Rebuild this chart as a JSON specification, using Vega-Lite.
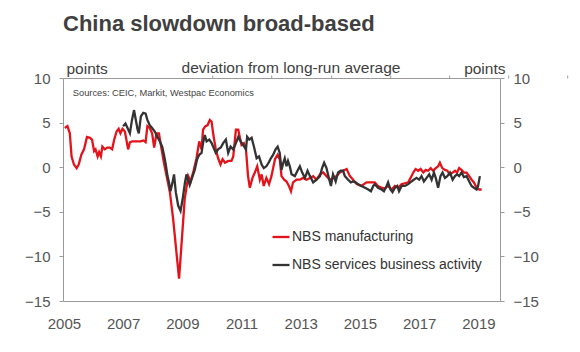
{
  "$schema": "https://vega.github.io/schema/vega-lite/v6.json",
  "width": 437,
  "height": 223,
  "autosize": "none",
  "padding": {"left": 63, "top": 78, "right": 80, "bottom": 51},
  "background": "white",
  "title": {"text": "China slowdown broad-based", "anchor": "start", "frame": "group", "fontSize": 22, "fontWeight": "bold", "color": "#404040", "font": "Liberation Sans", "offset": 25},
  "config": {
    "font": "Liberation Sans",
    "view": {"stroke": "#9a9a9a", "strokeWidth": 1},
    "axis": {"labelFont": "Liberation Sans", "labelFontSize": 15, "labelColor": "#555555", "titleFont": "Liberation Sans", "titleFontSize": 15.5, "titleFontWeight": "normal", "titleColor": "#404040", "grid": false, "domain": false, "tickColor": "#9a9a9a"}
  },
  "datasets": {
    "mfg": [
      {"year":2005.03,"value":4.4},{"year":2005.12,"value":4.6},{"year":2005.20,"value":3.8},{"year":2005.26,"value":1.2},{"year":2005.34,"value":0.3},{"year":2005.43,"value":-0.1},{"year":2005.50,"value":0.3},{"year":2005.59,"value":1.4},{"year":2005.68,"value":2.0},{"year":2005.78,"value":3.4},{"year":2005.88,"value":3.3},{"year":2005.95,"value":3.1},
      {"year":2006.02,"value":1.8},{"year":2006.07,"value":2.0},{"year":2006.14,"value":1.2},{"year":2006.19,"value":1.7},{"year":2006.25,"value":1.2},{"year":2006.30,"value":2.3},{"year":2006.38,"value":2.0},{"year":2006.47,"value":2.2},{"year":2006.55,"value":2.2},{"year":2006.63,"value":2.0},{"year":2006.70,"value":3.1},{"year":2006.78,"value":4.0},{"year":2006.85,"value":4.3},{"year":2006.91,"value":3.8},{"year":2006.98,"value":4.3},
      {"year":2007.06,"value":4.0},{"year":2007.11,"value":3.1},{"year":2007.17,"value":2.0},{"year":2007.23,"value":2.8},{"year":2007.30,"value":2.9},{"year":2007.45,"value":2.9},{"year":2007.60,"value":2.9},{"year":2007.68,"value":3.0},{"year":2007.76,"value":2.8},{"year":2007.82,"value":4.6},{"year":2007.90,"value":4.4},{"year":2007.98,"value":3.8},
      {"year":2008.05,"value":2.2},{"year":2008.13,"value":3.8},{"year":2008.21,"value":3.8},{"year":2008.30,"value":2.0},{"year":2008.39,"value":0.3},{"year":2008.47,"value":-1.0},{"year":2008.58,"value":-2.8},{"year":2008.69,"value":-5.8},{"year":2008.80,"value":-9.5},{"year":2008.89,"value":-12.5},{"year":2008.97,"value":-8.8},
      {"year":2009.08,"value":-3.6},{"year":2009.20,"value":-1.0},{"year":2009.28,"value":-1.6},{"year":2009.38,"value":-0.4},{"year":2009.48,"value":1.0},{"year":2009.57,"value":2.9},{"year":2009.65,"value":2.0},{"year":2009.70,"value":4.2},{"year":2009.78,"value":4.6},{"year":2009.85,"value":4.7},{"year":2009.93,"value":5.3},{"year":2009.99,"value":5.1},
      {"year":2010.04,"value":3.8},{"year":2010.13,"value":2.0},{"year":2010.21,"value":1.0},{"year":2010.29,"value":0.3},{"year":2010.36,"value":0.9},{"year":2010.44,"value":0.5},{"year":2010.55,"value":0.7},{"year":2010.66,"value":0.7},{"year":2010.72,"value":1.2},{"year":2010.81,"value":4.2},{"year":2010.89,"value":4.2},{"year":2010.94,"value":3.4},
      {"year":2011.00,"value":2.5},{"year":2011.08,"value":2.7},{"year":2011.15,"value":2.0},{"year":2011.22,"value":-1.0},{"year":2011.28,"value":-2.3},{"year":2011.37,"value":-1.2},{"year":2011.45,"value":-0.6},{"year":2011.53,"value":0.1},{"year":2011.62,"value":-1.4},{"year":2011.68,"value":-0.8},{"year":2011.75,"value":-2.1},{"year":2011.84,"value":-1.2},{"year":2011.93,"value":-1.9},
      {"year":2012.01,"value":-1.0},{"year":2012.13,"value":0.9},{"year":2012.22,"value":1.4},{"year":2012.29,"value":0.9},{"year":2012.35,"value":-1.0},{"year":2012.44,"value":-1.4},{"year":2012.52,"value":-1.6},{"year":2012.60,"value":-2.1},{"year":2012.67,"value":-2.7},{"year":2012.74,"value":-1.7},{"year":2012.86,"value":-1.4},{"year":2012.97,"value":-1.4},
      {"year":2013.08,"value":-1.2},{"year":2013.20,"value":-1.4},{"year":2013.31,"value":-1.2},{"year":2013.42,"value":-1.0},{"year":2013.53,"value":-1.4},{"year":2013.65,"value":-0.8},{"year":2013.76,"value":-0.6},{"year":2013.87,"value":-1.0},{"year":2013.98,"value":-1.4},
      {"year":2014.09,"value":-1.2},{"year":2014.21,"value":-1.0},{"year":2014.32,"value":-0.6},{"year":2014.43,"value":-0.4},{"year":2014.55,"value":-0.2},{"year":2014.66,"value":-1.0},{"year":2014.77,"value":-1.4},{"year":2014.89,"value":-1.9},
      {"year":2015.05,"value":-2.1},{"year":2015.22,"value":-1.7},{"year":2015.39,"value":-1.7},{"year":2015.50,"value":-1.7},{"year":2015.61,"value":-2.1},{"year":2015.73,"value":-2.3},{"year":2015.84,"value":-2.4},{"year":2015.95,"value":-2.1},
      {"year":2016.07,"value":-2.5},{"year":2016.18,"value":-2.1},{"year":2016.29,"value":-2.3},{"year":2016.41,"value":-1.9},{"year":2016.52,"value":-1.8},{"year":2016.63,"value":-1.7},{"year":2016.71,"value":-1.2},{"year":2016.80,"value":-0.6},{"year":2016.88,"value":-0.2},{"year":2016.97,"value":-0.4},
      {"year":2017.05,"value":-0.2},{"year":2017.14,"value":-0.6},{"year":2017.22,"value":-0.3},{"year":2017.30,"value":-0.4},{"year":2017.39,"value":-0.1},{"year":2017.47,"value":-0.4},{"year":2017.56,"value":-0.1},{"year":2017.64,"value":0.1},{"year":2017.70,"value":0.5},{"year":2017.78,"value":-0.1},{"year":2017.87,"value":-0.3},{"year":2017.95,"value":-0.4},
      {"year":2018.04,"value":-0.8},{"year":2018.13,"value":-0.6},{"year":2018.21,"value":-0.4},{"year":2018.28,"value":-0.6},{"year":2018.35,"value":-0.1},{"year":2018.43,"value":-0.3},{"year":2018.51,"value":-0.6},{"year":2018.60,"value":-0.6},{"year":2018.69,"value":-1.0},{"year":2018.77,"value":-1.4},{"year":2018.85,"value":-1.7},{"year":2018.94,"value":-2.3},
      {"year":2019.03,"value":-2.5},{"year":2019.11,"value":-2.5}
    ],
    "svc": [
      {"year":2007.00,"value":4.6},{"year":2007.08,"value":4.9},{"year":2007.15,"value":4.4},{"year":2007.23,"value":3.8},{"year":2007.30,"value":5.3},{"year":2007.37,"value":6.4},{"year":2007.43,"value":5.3},{"year":2007.49,"value":4.2},{"year":2007.53,"value":3.8},{"year":2007.60,"value":5.7},{"year":2007.68,"value":6.1},{"year":2007.76,"value":6.0},{"year":2007.82,"value":5.3},{"year":2007.90,"value":4.7},{"year":2007.98,"value":4.4},
      {"year":2008.07,"value":4.0},{"year":2008.16,"value":3.4},{"year":2008.24,"value":2.9},{"year":2008.32,"value":2.3},{"year":2008.38,"value":1.4},{"year":2008.44,"value":0.3},{"year":2008.50,"value":-1.0},{"year":2008.55,"value":-1.7},{"year":2008.60,"value":-2.7},{"year":2008.67,"value":-1.7},{"year":2008.72,"value":-0.8},{"year":2008.78,"value":-2.8},{"year":2008.86,"value":-4.3},{"year":2008.94,"value":-4.9},
      {"year":2009.01,"value":-3.6},{"year":2009.09,"value":-1.7},{"year":2009.14,"value":-0.8},{"year":2009.25,"value":-2.0},{"year":2009.34,"value":-1.1},{"year":2009.42,"value":-0.3},{"year":2009.50,"value":0.9},{"year":2009.57,"value":1.4},{"year":2009.65,"value":1.6},{"year":2009.70,"value":2.7},{"year":2009.76,"value":3.6},{"year":2009.82,"value":2.9},{"year":2009.91,"value":3.1},{"year":2009.99,"value":2.7},
      {"year":2010.04,"value":2.3},{"year":2010.13,"value":1.6},{"year":2010.21,"value":2.0},{"year":2010.30,"value":2.2},{"year":2010.38,"value":2.7},{"year":2010.47,"value":3.1},{"year":2010.55,"value":1.6},{"year":2010.63,"value":2.3},{"year":2010.72,"value":2.0},{"year":2010.81,"value":2.7},{"year":2010.89,"value":3.4},{"year":2010.97,"value":2.9},
      {"year":2011.05,"value":2.5},{"year":2011.15,"value":2.0},{"year":2011.19,"value":3.4},{"year":2011.26,"value":3.1},{"year":2011.34,"value":3.3},{"year":2011.42,"value":2.3},{"year":2011.51,"value":1.0},{"year":2011.59,"value":1.2},{"year":2011.68,"value":0.3},{"year":2011.75,"value":-0.1},{"year":2011.84,"value":0.1},{"year":2011.93,"value":0.6},
      {"year":2011.99,"value":1.0},{"year":2012.07,"value":1.4},{"year":2012.15,"value":2.0},{"year":2012.22,"value":2.3},{"year":2012.29,"value":1.6},{"year":2012.35,"value":-0.3},{"year":2012.41,"value":0.5},{"year":2012.46,"value":1.0},{"year":2012.52,"value":0.1},{"year":2012.57,"value":0.7},{"year":2012.63,"value":0.1},{"year":2012.69,"value":-0.8},{"year":2012.80,"value":-1.0},{"year":2012.89,"value":-0.4},{"year":2012.97,"value":0.1},
      {"year":2013.05,"value":-0.6},{"year":2013.14,"value":-1.2},{"year":2013.23,"value":-0.4},{"year":2013.31,"value":-1.0},{"year":2013.42,"value":-1.7},{"year":2013.53,"value":-1.4},{"year":2013.65,"value":-1.0},{"year":2013.72,"value":-0.1},{"year":2013.79,"value":0.5},{"year":2013.87,"value":-0.1},{"year":2013.95,"value":-1.2},
      {"year":2014.02,"value":-2.1},{"year":2014.09,"value":-0.8},{"year":2014.18,"value":-1.6},{"year":2014.26,"value":-0.6},{"year":2014.35,"value":-0.4},{"year":2014.43,"value":-0.4},{"year":2014.49,"value":-1.0},{"year":2014.60,"value":-1.4},{"year":2014.69,"value":-1.7},{"year":2014.77,"value":-1.6},{"year":2014.85,"value":-1.7},{"year":2014.94,"value":-1.9},
      {"year":2015.05,"value":-2.1},{"year":2015.17,"value":-2.3},{"year":2015.28,"value":-2.5},{"year":2015.37,"value":-2.7},{"year":2015.45,"value":-2.1},{"year":2015.50,"value":-1.9},{"year":2015.61,"value":-2.3},{"year":2015.73,"value":-2.5},{"year":2015.81,"value":-2.7},{"year":2015.90,"value":-2.1},{"year":2015.95,"value":-1.7},
      {"year":2016.03,"value":-2.5},{"year":2016.10,"value":-2.8},{"year":2016.18,"value":-2.3},{"year":2016.26,"value":-2.1},{"year":2016.32,"value":-2.7},{"year":2016.41,"value":-2.1},{"year":2016.52,"value":-2.1},{"year":2016.63,"value":-1.9},{"year":2016.74,"value":-1.6},{"year":2016.82,"value":-1.4},{"year":2016.91,"value":-1.2},
      {"year":2017.00,"value":-1.4},{"year":2017.08,"value":-1.0},{"year":2017.16,"value":-1.6},{"year":2017.25,"value":-1.2},{"year":2017.34,"value":-0.8},{"year":2017.42,"value":-1.4},{"year":2017.50,"value":-0.6},{"year":2017.56,"value":-1.2},{"year":2017.64,"value":-2.3},{"year":2017.72,"value":-1.0},{"year":2017.79,"value":-0.6},{"year":2017.87,"value":-1.2},{"year":2017.95,"value":-1.0},
      {"year":2018.04,"value":-0.6},{"year":2018.13,"value":-1.4},{"year":2018.21,"value":-1.0},{"year":2018.28,"value":-0.8},{"year":2018.35,"value":-1.0},{"year":2018.43,"value":-0.6},{"year":2018.51,"value":-1.1},{"year":2018.60,"value":-1.0},{"year":2018.69,"value":-1.6},{"year":2018.77,"value":-2.1},{"year":2018.85,"value":-2.3},{"year":2018.94,"value":-2.5},{"year":2018.99,"value":-2.1},{"year":2019.05,"value":-1.0}
    ],
    "notes": [
      {"note": "deviation from long-run average", "year": 2012.67, "value": 10},
      {"note": "Sources: CEIC, Markit, Westpac Economics", "year": 2005.3, "value": 8.3}
    ]
  },
  "layer": [
    {
      "mark": {"type": "rule", "color": "#9a9a9a", "strokeWidth": 1},
      "encoding": {"y": {"datum": 0, "type": "quantitative", "scale": {"domain": [-15, 10], "nice": false, "zero": false}, "axis": null}}
    },
    {
      "data": {"name": "mfg"},
      "mark": {"type": "line", "strokeWidth": 2.3, "interpolate": "linear"},
      "encoding": {
        "x": {"field": "year", "type": "quantitative", "scale": {"domain": [2004.97, 2019.73], "nice": false, "zero": false},
              "axis": {"orient": "bottom", "values": [2005, 2007, 2009, 2011, 2013, 2015, 2017, 2019], "format": "d", "ticks": false, "labelPadding": 15, "labelFlush": false, "title": null}},
        "y": {"field": "value", "type": "quantitative", "scale": {"domain": [-15, 10], "nice": false, "zero": false},
              "axis": {"orient": "left", "values": [-15, -10, -5, 0, 5, 10], "tickSize": 4, "labelPadding": 9, "labelFlush": false, "title": "points", "titleAngle": 0, "titleAlign": "left", "titleBaseline": "alphabetic", "titleX": 3, "titleY": -5}},
        "color": {"datum": "NBS manufacturing", "type": "nominal",
                  "scale": {"domain": ["NBS manufacturing", "NBS services business activity"], "range": ["#E3131B", "#333333"]},
                  "legend": {"orient": "none", "legendX": 208, "legendY": 149, "title": null, "symbolType": "stroke", "symbolSize": 289, "symbolStrokeWidth": 2.3, "labelFontSize": 14, "labelColor": "#333333", "labelFont": "Liberation Sans", "labelLimit": 400, "rowPadding": 11, "labelOffset": 1, "padding": 0}}
      }
    },
    {
      "data": {"name": "svc"},
      "mark": {"type": "line", "strokeWidth": 2.3, "interpolate": "linear"},
      "encoding": {
        "x": {"field": "year", "type": "quantitative", "scale": {"domain": [2004.97, 2019.73], "nice": false, "zero": false}, "axis": null},
        "y": {"field": "value", "type": "quantitative", "scale": {"domain": [-15, 10], "nice": false, "zero": false}, "axis": null},
        "color": {"datum": "NBS services business activity", "type": "nominal"}
      }
    },
    {
      "data": {"name": "notes"},
      "transform": [{"filter": "datum.value == 10"}],
      "mark": {"type": "text", "fontSize": 15.5, "color": "#404040", "baseline": "alphabetic", "align": "center", "dy": -5, "font": "Liberation Sans"},
      "encoding": {
        "x": {"field": "year", "type": "quantitative", "scale": {"domain": [2004.97, 2019.73], "nice": false, "zero": false},
              "axis": {"orient": "top", "position": 89.2, "values": [2007, 2009, 2011, 2013, 2015, 2017, 2019], "labels": false, "ticks": true, "tickSize": 3, "domain": false, "title": null}},
        "y": {"field": "value", "type": "quantitative", "scale": {"domain": [-15, 10], "nice": false, "zero": false},
              "axis": {"orient": "right", "values": [-15, -10, -5, 0, 5, 10], "tickSize": 4, "labelPadding": 9, "labelFlush": false, "title": "points", "titleAngle": 0, "titleAlign": "right", "titleBaseline": "alphabetic", "titleX": 5, "titleY": -5}},
        "text": {"field": "note", "type": "nominal"}
      }
    },
    {
      "data": {"name": "notes"},
      "transform": [{"filter": "datum.value != 10"}],
      "mark": {"type": "text", "fontSize": 9.3, "color": "#444444", "baseline": "middle", "align": "left", "font": "Liberation Sans"},
      "encoding": {
        "x": {"field": "year", "type": "quantitative", "scale": {"domain": [2004.97, 2019.73], "nice": false, "zero": false}, "axis": null},
        "y": {"field": "value", "type": "quantitative", "scale": {"domain": [-15, 10], "nice": false, "zero": false}, "axis": null},
        "text": {"field": "note", "type": "nominal"}
      }
    }
  ],
  "resolve": {"axis": {"x": "independent", "y": "independent"}}
}
